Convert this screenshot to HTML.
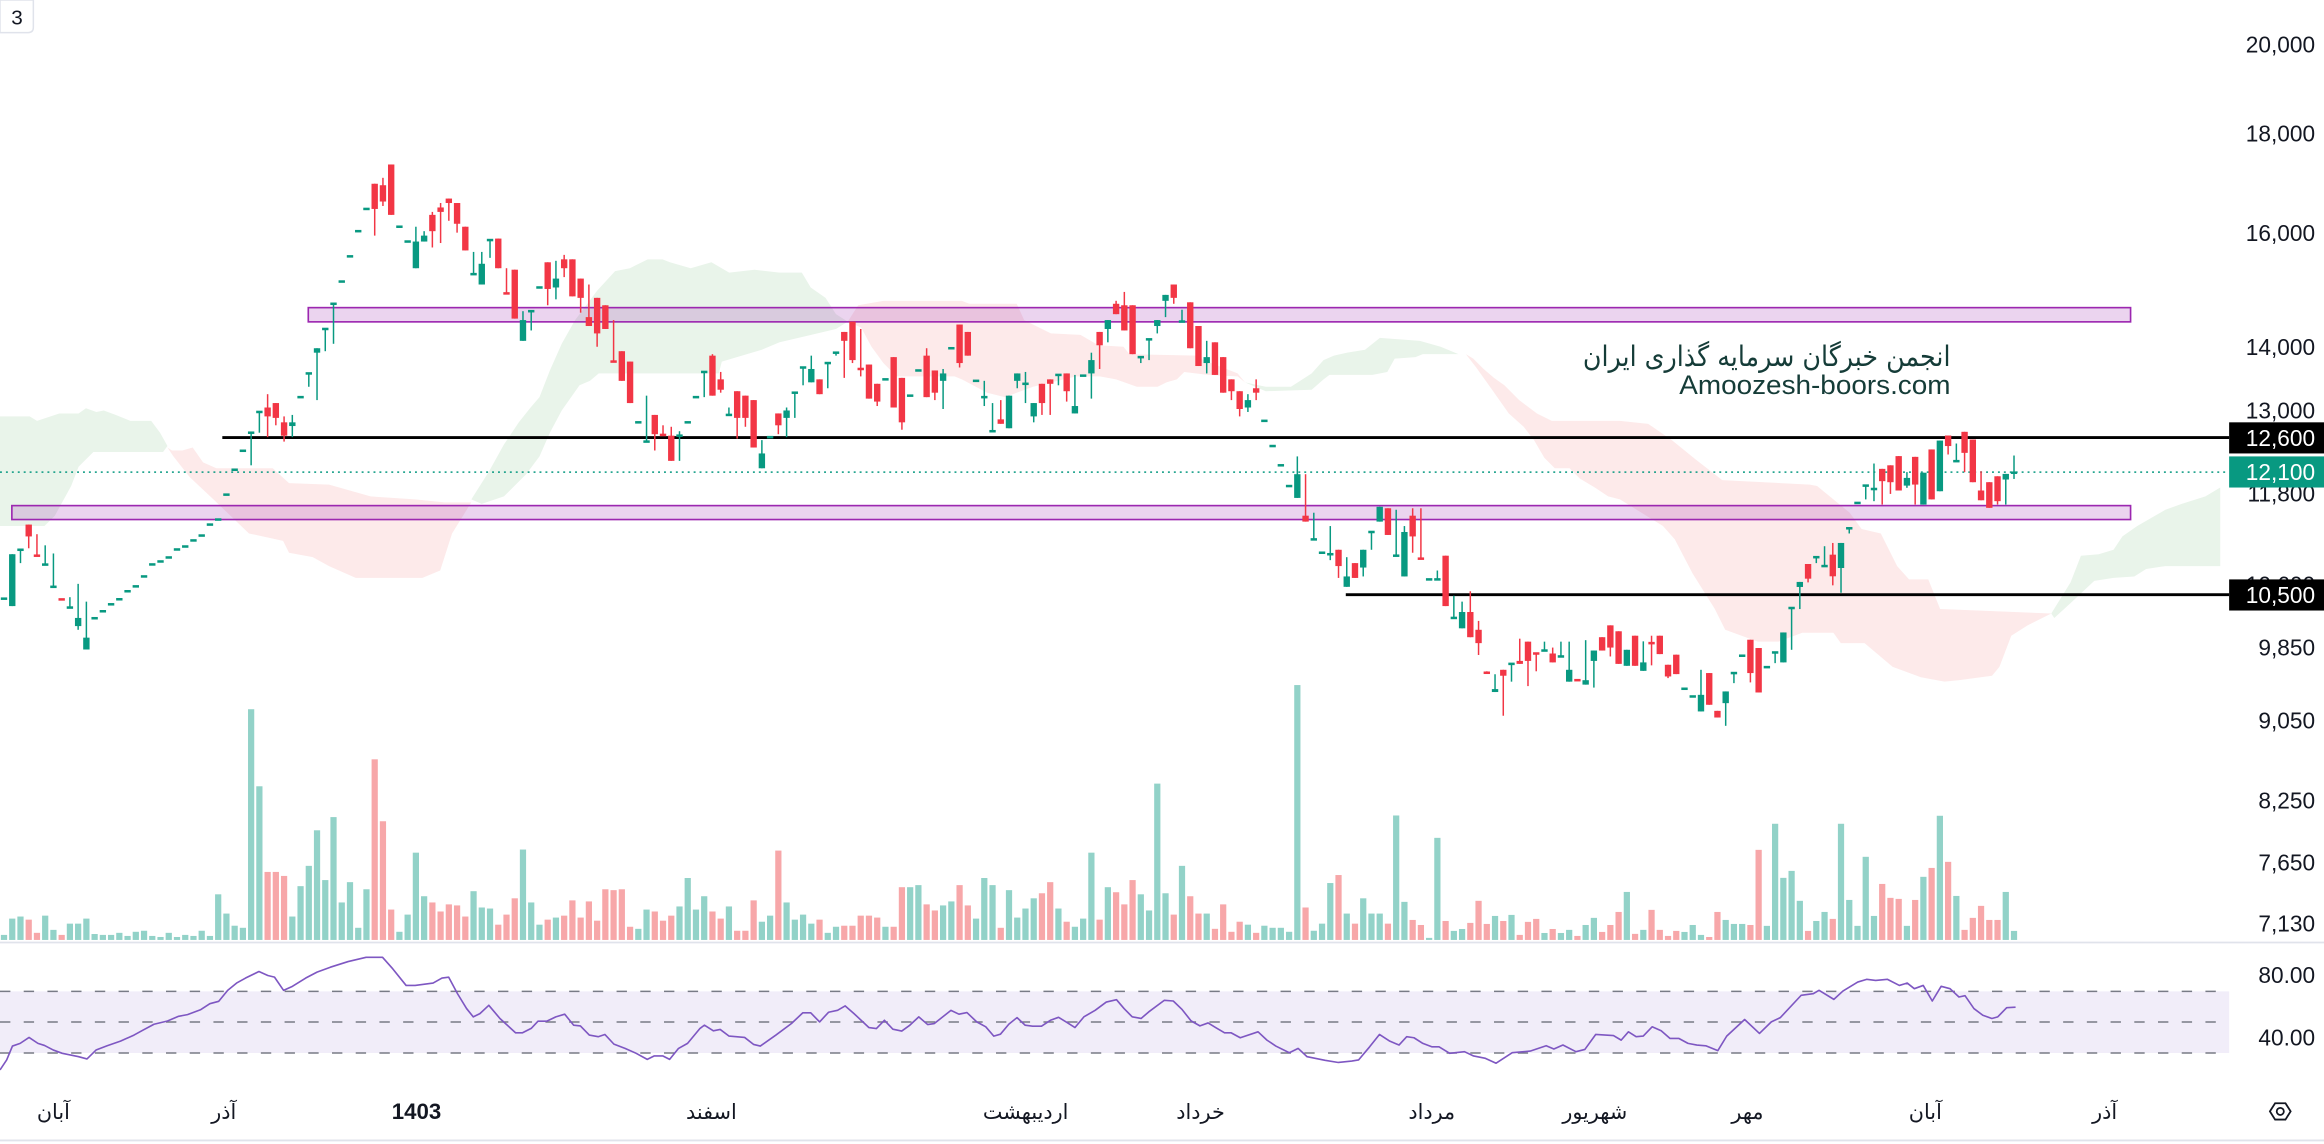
<!DOCTYPE html>
<html><head><meta charset="utf-8">
<style>
html,body{margin:0;padding:0;background:#fff;}
body{width:2324px;height:1144px;overflow:hidden;}
svg{display:block;}
.ax{font-family:"Liberation Sans","DejaVu Sans",sans-serif;font-size:15.3px;fill:#131722;}
.tx{font-family:"DejaVu Sans","Liberation Sans",sans-serif;font-size:14px;fill:#131722;}
</style></head>
<body>
<svg width="2324" height="1144" viewBox="0 0 1568 772" preserveAspectRatio="none" xmlns="http://www.w3.org/2000/svg">
<rect x="0" y="0" width="1568" height="772" fill="#fff"/>
<!-- clouds -->
<g>
<polygon fill="#e9f4ea" points="0,281 20,281 25,284 40,279 53,279 58,275.5 65,278 70,277 78,280 88,284 102,284 108,292 113,301 110,305 63,305 53,315 48,328 37,348 30,355 0,355"/>
<polygon fill="#fdeaea" points="113,302 116,304 123,304 130,302 137,312 146,316 184,316 195,326 222,327 250,335 280,337 300,339 318,339 305,360 297,385 285,390 240,390 222,382 211,376 195,373 191,365 168,360 144,337 128,322 117,308"/>
<polygon fill="#e9f4ea" points="318,337 330,318 340,300 350,285 358,275 364,268 371,250 379,232 388,216 403,196 415,183 425,181 437,175 447,175 452,177 466,181 480,177 492,184 509,182 526,184 541,184 547,194 557,201 564,212 572,217 564,222 543,227 526,231 514,236 504,239 487,244 485,252 404,252 398,257 391,260 379,277 371,292 364,308 355,320 340,335 325,340"/>
<polygon fill="#fdeaea" points="572,217 579,206 596,203 649,203 654,205 686,205 691,216 709,225 729,226 736,230 741,233 758,234 762,239 808,240 812,243 835,252 840,258 835,254 815,253 799,251 794,256 787,258 781,261 767,261 753,256 742,254 726,254 697,261 678,268 666,265 649,256 644,254 605,254 596,245 588,234 581,221"/>
<polygon fill="#e9f4ea" points="840,258 854,261 871,261 885,252 893,243 900,240 909,238 921,236 931,228 958,230 972,234 984,239 989,239 960,239 955,241 941,242 936,251 926,253 897,253 893,256 885,263 854,264"/>
<polygon fill="#fdeaea" points="989,239 994,242 1001,249 1008,255 1015,260 1025,270 1037,279 1047,284 1093,284 1112,286 1128,297 1144,310 1162,324 1221,327 1226,328 1237,337 1248,346 1256,357 1269,360 1280,382 1288,391 1301,391 1309,411 1384,414 1368,422 1357,429 1349,450 1344,456 1322,459 1312,460 1296,457 1277,450 1258,434 1242,434 1237,427 1216,427 1200,433 1186,433 1164,425 1157,411 1142,387 1130,364 1122,355 1093,337 1085,335 1076,329 1066,323 1059,316 1049,316 1042,309 1035,297 1028,288 1018,279 1006,262 996,248"/>
<polygon fill="#e9f4ea" points="1384,414 1397,393 1404,375 1416,374 1426,371 1432,362 1442,355 1461,344 1472,340 1488,335 1498,329 1498,382 1461,382 1448,384 1440,389 1426,390 1413,392 1397,407 1386,417"/>
</g>
<!-- purple zones -->
<rect x="208" y="207.6" width="1229.5" height="9.6" fill="rgba(156,39,176,0.2)" stroke="#9c27b0" stroke-width="1.1"/>
<rect x="8" y="341.2" width="1429.5" height="9.4" fill="rgba(156,39,176,0.2)" stroke="#9c27b0" stroke-width="1.1"/>
<!-- horizontal lines -->
<line x1="150" y1="295.3" x2="1504" y2="295.3" stroke="#000" stroke-width="1.9"/>
<line x1="908" y1="401.3" x2="1504" y2="401.3" stroke="#000" stroke-width="1.9"/>
<line x1="0" y1="318.6" x2="1504" y2="318.6" stroke="#089981" stroke-width="1" stroke-dasharray="1.3 2.7"/>
<!-- volume + candles (generated) -->
<g id="vol"></g>
<g id="cdl"></g>
<!-- separators -->
<line x1="0" y1="636" x2="1568" y2="636" stroke="#e0e3eb" stroke-width="1.2"/>
<line x1="0" y1="769.6" x2="1568" y2="769.6" stroke="#e0e3eb" stroke-width="1.2"/>
<!-- RSI -->
<rect x="0" y="669" width="1504" height="41.6" fill="#f1edf9"/>
<g stroke="#787b86" stroke-width="1" stroke-dasharray="7 9">
<line x1="0" y1="669" x2="1504" y2="669"/>
<line x1="0" y1="689.7" x2="1504" y2="689.7"/>
<line x1="0" y1="710.6" x2="1504" y2="710.6"/>
</g>
<polyline id="rsi" fill="none" stroke="#7e57c2" stroke-width="1.1" stroke-linejoin="round" points=""/>
<!-- price axis labels -->
<g class="ax" text-anchor="end">
<text x="1562" y="35.5">20,000</text>
<text x="1562" y="95.5">18,000</text>
<text x="1562" y="162.5">16,000</text>
<text x="1562" y="239.5">14,000</text>
<text x="1562" y="282.5">13,000</text>
<text x="1562" y="338.5">11,800</text>
<text x="1562" y="400">10,600</text>
<text x="1562" y="442.5">9,850</text>
<text x="1562" y="491.5">9,050</text>
<text x="1562" y="545.5">8,250</text>
<text x="1562" y="587.5">7,650</text>
<text x="1562" y="628.5">7,130</text>
<text x="1562" y="663.5">80.00</text>
<text x="1562" y="705.5">40.00</text>
</g>
<rect x="1504" y="285" width="64" height="21" fill="#000"/>
<rect x="1504" y="308" width="64" height="21" fill="#089981"/>
<rect x="1504" y="391" width="64" height="21" fill="#000"/>
<g class="ax" text-anchor="end" fill="#fff" style="fill:#fff">
<text x="1562" y="301">12,600</text>
<text x="1562" y="324">12,100</text>
<text x="1562" y="407">10,500</text>
</g>
<!-- time axis -->
<g class="tx" text-anchor="middle">
<text x="36" y="755">آبان</text>
<text x="151" y="755">آذر</text>
<text x="281" y="755" style="font-family:'Liberation Sans',sans-serif;font-weight:bold;font-size:15px">1403</text>
<text x="480" y="755">اسفند</text>
<text x="692" y="755">اردیبهشت</text>
<text x="810" y="755">خرداد</text>
<text x="966" y="755">مرداد</text>
<text x="1076" y="755">شهریور</text>
<text x="1179" y="755">مهر</text>
<text x="1299" y="755">آبان</text>
<text x="1420" y="755">آذر</text>
</g>
<!-- watermark -->
<text x="1316" y="247" text-anchor="end" textLength="248" lengthAdjust="spacingAndGlyphs" style="font-family:'DejaVu Sans',sans-serif;font-size:19px;fill:#153c38">انجمن خبرگان سرمایه گذاری ایران</text>
<text x="1316" y="266" text-anchor="end" textLength="183" lengthAdjust="spacingAndGlyphs" style="font-family:'Liberation Sans',sans-serif;font-size:18px;fill:#153c38">Amoozesh-boors.com</text>
<!-- top-left box -->
<path d="M0,0 H22.5 V18.5 Q22.5,22 19,22 H0 Z" fill="#fff" stroke="#e0e3eb" stroke-width="1"/>
<text x="11.5" y="16.5" text-anchor="middle" style="font-family:'Liberation Sans',sans-serif;font-size:14px;fill:#131722">3</text>
<!-- hex icon -->
<polygon points="1531.5,750 1535,744.5 1542,744.5 1545.5,750 1542,755.5 1535,755.5" fill="none" stroke="#131722" stroke-width="1.2"/>
<circle cx="1538.5" cy="750" r="2.4" fill="none" stroke="#131722" stroke-width="1.2"/>
</svg>
<script>
(function(){
var X0=2.7,DX=5.558;
var C=[[1,404],[1,374,409,374,409],[1,371,371,371,380],[0,354,362,354,370],[0,375,375,360.5,375],[1,381,381,368,381],[1,396,396,373.5,396],[0,404.5],[1,410,410,403,410],[1,417,422.5,394,425],[1,430.3,438.3,406,438.3],
[1,417.2],[1,412.5],[1,407.8],[1,404.4],[1,399],[1,395.7],[1,389],[1,380.9],[1,378.9],[1,376.2],[1,370.8],[1,368.8],[1,364.7],[1,361.4],[1,354],[1,350.6],[1,333.8],[1,317],[1,304.2],
[1,292,292,292,314],[1,278,278,278,292],[0,275,281,266,295],[0,272,282,272,287],[0,285,294,281,298],[1,285,287.5,280,295],[1,268],[1,252,252,252,261],[1,235,238,235,270],[1,222,222,222,237],[1,205,205,205,232],
[1,190],[1,173],[1,156],[1,141],[0,124,141,124,159],[0,125,136,120,139],[0,111,145,111,145],[1,153],[1,163],[1,163,181,153,181],[1,159,163,156,163],[0,145,156,143,167],[0,140,143,137,164],[0,134,137,134,149],[0,137,151,137,157],[0,153,169,153,169],
[1,185,185,170,185],[1,178,192,170,192],[1,162,162,162,174],[0,161,181,161,181],[0,198,198,181,198],[0,182,215,182,215],[1,216,230,210,230],[1,210,210,210,223],[1,194],[0,177,195,177,206],[1,188,194,176,202],
[0,175,181,172,187],[0,175,200,175,200],[0,188,201,188,211],[0,214,220,192,220],[0,201,225,201,234],[0,206,222,206,222],[0,244,244,216,244],[0,237,257,237,257],[0,244,272,244,272],[1,285],[1,298,298,267,298],
[0,280,293,280,304],[0,293.5,293.5,287,294],[0,294,311,288,311],[1,294,294,291,311],[1,285],[1,268],[1,251,251,251,268],[0,240,267,239,267],[0,256,263,251,265],[1,280,280,275,280],[0,264,282,264,296],
[0,267,282,267,288],[0,270,302,270,302],[1,306,316,297,316],[1,295],[0,279,287,279,293],[1,277,282,275,295],[1,265,265,265,282],[1,248,248,248,260],[1,249,258,240,258],[0,256,266,256,266],
[1,245,245,245,262],[1,238,238,238,240],[0,224,230,224,255],[0,217,243,217,245],[0,249,249,222,254],[0,246,269,246,269],[0,259,271,259,274],[1,256],[0,241,275,241,275],[0,255,285,255,290],
[1,267],[1,250],[0,240,268,235,268],[0,250,265,250,270],[1,252,257,249,276],[1,235],[0,219,245,219,248],[0,224,240,224,240],[1,257],[1,268,268,257,274],
[1,291,291,272,291],[0,283,286,270,286],[1,267,289,267,289],[1,252,257,252,262],[1,259,259,251,272],[1,272,281,272,285],[0,259,272,259,280],[0,256,259,256,280],[1,253,253,253,260],[0,252,264,252,271],
[1,274,279,253,279],[1,253.5],[1,243,252,238,269],[0,224,233,224,249],[1,216,222,216,231],[0,205,212,203,212],[0,206,223,197,223],[0,206,239,206,239],[1,241,241,241,245],[1,229,229,229,243],
[1,216,220,216,225],[1,199,203,199,214],[0,192,201,192,205],[1,217,217,209,217],[0,204,235,204,235],[0,220,247,220,247],[1,241,245,230,252],[0,231,253,231,253],[0,241,265,241,265],[0,256,264,256,270],
[0,264,276,264,281],[1,270,275,266,278],[0,262,265,256,270],[1,284],[1,301],[1,314],[1,328],[1,320,336,308,336],[0,348,352,320,352],[1,364,364,346,364],
[1,373],[1,374,374,355,378],[0,371,382,371,390],[1,389,396,376,396],[0,380,390,380,390],[1,371,383,371,389],[1,359,359,359,371],[1,342,352,342,352],[0,343,361,343,361],[1,375,375,344,375],
[1,359,389,355,389],[0,348,362,343,373],[0,377,377,343,377],[1,391],[1,391,391,385,391],[0,375,409,375,409],[1,417,417,402,417],[1,413,424,406,424],[0,413,430,399,430],[0,425,434,419,442],
[0,454,454,453,454],[1,465,467,455,467],[0,452,456,452,483],[1,448,448,448,460],[0,446,448,431,448],[0,433,446,433,463],[0,441,441,441,453],[1,439,439,433,439],[0,441,447,437,447],[1,443,443,433,443],
[1,452,460,433,460],[0,459],[1,459,462,432,462],[1,439,446,439,464],[0,430,439,430,439],[0,422,437,422,443],[0,426,448,426,448],[1,438.5,449.3,438.5,449.3],[0,429,449.3,429,449.3],[1,447,452.7,432.8,452.7],
[0,434,434,429,449],[0,429,441.4,429,441.4],[0,448.6,456.5,448.6,457.6],[0,441.8,454.9,441.8,454.9],[1,464.8],[1,470],[1,468.9,480.1,452,480.1],[0,454.2,475.6,454.2,475.6],[0,479.7,484.2,479.7,484.2],[1,466.6,474.5,466.6,489.8],
[1,454.2,454.2,454.2,461],[1,442.5],[0,431.7,454.2,431.7,460.5],[0,437.3,467.3,437.3,467.3],[1,450.2],[1,440.3,440.3,440.3,447.5],[1,426.8,447,426.8,447],[1,410.3,410.3,410.3,438.5],[1,392.7,396.1,392.7,411],[0,380.6,390.5,380.6,393],
[1,376,376,376,380],[1,382,382,368.6,382],[0,374.3,388.9,366.4,395],[1,366.4,383.3,366.4,400],[1,356.5,356.5,356.5,360],[1,339.4],[1,327.7,327.7,327.7,337],[1,330,330,312.8,338.2],[0,316.4,324.7,316.4,340.5],[0,314,325.4,314,333.3],
[0,307.8,331,307.8,331],[1,322.5,327.7,318.6,329.2],[0,308.3,327,308.3,340.5],[1,319,340.5,319,340.5],[0,303.3,337,303.3,337],[1,297.3,331.5,297.3,331.5],[0,293.9,301,293.9,306.7],[1,311.2,311.2,299.3,311.2],[0,291.4,305.6,291.4,318.6],[0,296.6,325.4,296.6,325.4],
[0,331,337.6,318,337.6],[0,325.4,342.7,325.4,342.7],[0,321.4,338.2,321.4,340.5],[1,319.8,323.6,319.8,340.5],[1,319,319,307.4,323.2]];
var V="g3.4 g14.4 g15.8 r13.7 r4.8 g16.4 g6.8 r3.4 g11 g11 g14.4 g4 g3.4 g3.4 g4.8 g2.7 g5.5 g6.2 g2.7 g2 g4.8 g2 g3.4 g2.7 g6.2 g2.7 g30.8 g17.8 g9.6 g8.2 g155.7 g103.7 r45.9 r45.9 r43.2 g15.8 g36.3 g50 g74 g40.4 g82.9 g25.3 g39 g8.2 g34.2 r121.9 r80.1 r20.5 g5.5 g17.1 g58.9 g29.5 r25.3 r19.2 r24 r23.3 r15.8 g32.9 g21.9 g21.2 r10.3 r17.1 r28.1 g61 g25.3 g10.3 r13.7 g15.1 r16.4 r26.7 r15.1 r26 r13 r34.2 r33.6 r34.2 r8.9 g7.5 g20.5 r19.2 r13 r16.4 g22.6 g41.8 g20.5 "+
"g29.5 r19.2 r14.4 g22.6 r6.2 r6.2 r26.7 g12.3 g16.4 r60.3 g25.3 g13.7 g17.1 g11 r13.7 g4.8 g8.9 r9.6 r9.6 r16.4 r16.4 r15.1 g8.9 r8.9 r35.6 g35.6 g37 r24 r19.9 g23.3 g26 r37 r23.3 g14.4 g41.8 g37 r8.2 g33.6 g15.1 g21.2 g28.1 r31.5 r39 g21.2 r12.3 g8.9 g14.4 g58.9 r13.7 g35.6 r32.2 r24 r40.4 g30.8 g19.9 g105.5 g31.5 r17.1 g50 r29.5 r17.8 g17.8 r7.5 r24 r5.5 r12.3 g10.3 r4.8 g9.6 g8.2 g8.2 g5.5 g172 r21.9 g6.2 g11 g38.4 r43.8 g17.8 r11 g28.1 g17.8 g17.8 r11 g84 "+
"g25.7 r13.5 r10.1 g1.4 g68.9 r12.8 g6.1 g7.4 r11.5 r26.4 r10.8 g16.2 r12.8 g16.9 r3.4 r12.2 r14.2 g4.7 r7.4 g4.7 g6.8 r2.7 g10.1 g14.9 r5.4 r10.1 r18.9 g32.4 r4.1 g6.8 r20.3 r6.8 r2.7 r6.1 g5.4 g10.1 g3.4 r2 r18.9 g13.5 g10.8 g10.8 r10.1 r60.8 g9.5 g78.4 g41.9 g46.6 g26.4 r6.1 g12.8 g18.9 r14.2 g78.4 g27 g9.5 g56.1 g16.2 r37.8 r28.4 r27.7 g9.5 r27 g42.6 r48.6 g83.8 r52.7 g29.7 r6.8 r14.9 r23 r13.5 r13.5 g32.4 g6.1";
var vs=V.trim().split(/\s+/),h="",i,x;
var BASE=634.3;
for(i=0;i<vs.length;i++){x=X0+DX*i;var c=vs[i][0],hh=parseFloat(vs[i].slice(1));
h+='<rect x="'+(x-2.1).toFixed(2)+'" y="'+(BASE-hh).toFixed(2)+'" width="4.2" height="'+hh.toFixed(2)+'" fill="'+(c=="g"?"#92d2c8":"#f7a7a9")+'"/>';}
document.getElementById("vol").innerHTML=h;
h="";
for(i=0;i<C.length;i++){x=X0+DX*i;var d=C[i],col=d[0]?"#089981":"#f23645",bt,bb,wt,wb;
if(d.length==2){bt=bb=wt=wb=d[1];}else{bt=d[1];bb=d[2];wt=Math.min(d[3],bt);wb=Math.max(d[4],bb);}
var bh=bb-bt;if(bh<1.7){var m=(bt+bb)/2;bt=m-0.85;bh=1.7;}
if(wb-wt>0.5)h+='<rect x="'+(x-0.5).toFixed(2)+'" y="'+wt+'" width="1" height="'+(wb-wt).toFixed(2)+'" fill="'+col+'"/>';
h+='<rect x="'+(x-2.15).toFixed(2)+'" y="'+bt.toFixed(2)+'" width="4.3" height="'+bh.toFixed(2)+'" fill="'+col+'"/>';}
document.getElementById("cdl").innerHTML=h;
var R="0,722 4.5,715.3 8.4,705.9 13.6,704.1 19.6,700.1 25.6,704.1 30,705.5 36,708.6 42,710.8 52.7,713 58.7,714.6 64.8,708.6 72.3,705.7 81.3,702.6 90.4,698.5 96.4,695.2 103.9,691.2 113,689 120.5,685.8 126.5,684.7 135.5,681.3 141.6,677.3 147.6,675.7 153.6,668.3 159.6,663.4 165.7,660 174.7,655.6 180.7,658.3 185.2,659.4 191.3,668.3 197.3,665.6 206.3,660 213.9,656 222.9,652.7 234.9,648.9 247,646 258.1,646 265,653.8 274,665 280.1,665 292.2,663.4 298.2,660 302.7,659.4 308.7,670.6 314.8,680.6 319.3,686.2 323.8,684 329.8,678.4 337.3,687.3 347.9,697 352.4,697 358.4,694 363,689.1 369,689.1 375,686.2 381,684.4 387,691.8 391.6,692.3 397.6,698.5 403.6,699.6 408.1,698.1 414.2,704.6 421.7,707.5 429.2,710.8 436.7,714.9 441.3,712.6 447.3,712.6 451.8,714.9 457.8,707.5 463.9,704.1 472.3,694 475.3,691.8 481.3,695.6 485.9,694.7 491.9,699.2 502.4,700.1 508.4,704.8 513,705.9 523.5,698.5 534,690.7 541.6,683.5 547,683.5 553,689.6 559,683.1 565.1,681.8 570.2,678.8 576.2,684 586.2,693.4 591.3,694.1 596.7,688.5 602.4,694.5 608.4,695.8 613.9,691.8 619.9,686.2 625.9,691.4 630.4,690.7 641.6,681.8 647,684.4 652.4,683.3 659,689.6 665.1,692.9 670.5,699.2 675,697.9 680.7,691.1 686.2,686.7 691.6,691.8 696.7,692.5 702.7,692.5 708.7,688.5 714.2,686.5 719.3,689.6 725.3,693.4 731.3,686.2 738.9,681.8 746.4,676.2 753.3,674.6 758.4,680.6 763.9,686.2 769.9,687.3 775,682.9 785.6,675 791.6,675.5 797.6,681.3 803.6,688.9 809.6,692.3 815.1,690.3 820.2,693.4 826.2,697 830.7,697 836.8,700.3 848.8,696.3 854.8,701.9 860.8,705.9 869.9,710.4 875.9,707.5 881.9,713.1 894,715.5 903,717 912,716 916.6,715.3 924.1,706.4 930.7,698.1 937.7,702.6 943.9,705.2 949.1,699.6 954,700.3 960,704.1 966,706.4 970.9,706.4 978.1,710.8 988.1,709.7 994.2,712.6 1002.2,714.2 1009.4,717.5 1020.3,710.4 1032.4,709.3 1043.2,705.7 1048.4,707.9 1054.5,705.2 1063.3,709.7 1069.3,708.2 1076.6,698.1 1088.6,698.8 1093.8,701.9 1098.7,696.3 1103.9,699.6 1108.7,699.2 1114.7,692.9 1120.8,695.6 1126.8,700.8 1132.8,700.8 1138.9,704.1 1144.9,705.2 1150.9,705.7 1159,709 1165,699.2 1177.1,688 1187.1,697.4 1195.1,689.6 1201.2,686.7 1215.2,671.7 1223.3,670.6 1227.3,668.3 1237.3,674.4 1243.4,668.8 1253.4,662.7 1259.4,660.9 1265.5,661.6 1273.5,660.9 1281.5,665 1286.8,663.4 1291.6,667.2 1297.6,665 1303.7,675.5 1309.7,665.6 1315.7,667.2 1321.7,672.8 1325.8,671.9 1331.8,680.6 1337.8,685.1 1343.9,687.3 1347.9,686.2 1353.9,680 1359.9,679.7";
document.getElementById("rsi").setAttribute("points",R);
})();
</script>
</body></html>
